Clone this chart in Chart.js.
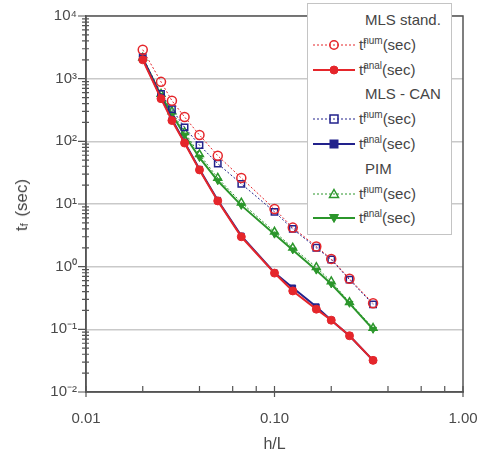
<!DOCTYPE html>
<html>
<head>
<meta charset="utf-8">
<script src="https://cdn.jsdelivr.net/npm/chart.js@4/dist/chart.umd.min.js"></script>
<style>
  html, body { margin: 0; padding: 0; background: #fff; }
  #wrap { position: relative; width: 480px; height: 456px; font-family: "Liberation Sans", Arial, sans-serif; color: #454545; }
  #wrap canvas { position: absolute; left: 0; top: 0; }
  #ytitle { position: absolute; left: 22px; top: 205px; transform: translate(-50%, -50%) rotate(-90deg); font-size: 17px; white-space: nowrap; }
  #legend { position: absolute; left: 307px; top: 3px; width: 145px; height: 232px; background: #fff; border: 1px solid #c4c4c4; box-sizing: border-box; }
  .row { position: absolute; left: 0; height: 24px; line-height: 24px; font-size: 15px; white-space: nowrap; }
  .row svg { position: absolute; left: 5px; top: 6px; }
  .row .txt { position: absolute; left: 51px; top: 0; }
  .row.head .txt { left: 57px; }
  .ss { position: relative; display: inline-block; }
  .ss .sp { font-size: 10px; position: relative; top: -6px; }
  .ss .sb { font-size: 10px; position: absolute; left: 0; top: 6px; line-height: 12px; }
  #ytitle .ss .sp { display: inline-block; width: 5px; }
  #ytitle .ss .sb { font-size: 11px; }
</style>
</head>
<body>
<div id="wrap">
  <canvas id="chart" width="480" height="456"></canvas>
  <div id="ytitle">t<span class="ss"><span class="sp"></span><span class="sb">f</span></span> (sec)</div>
  <div id="legend"></div>
</div>
<script>
// h/L values shared by all series
const hL = [1/50, 1/40, 1/35, 1/30, 1/25, 1/20, 1/15, 1/10, 1/8, 1/6, 1/5, 1/4, 1/3];

// t_f (sec)
const mlsStdNum  = [2900, 890, 445, 245, 126, 59, 26, 8.3, 4.2, 2.1, 1.33, 0.64, 0.26];
const mlsStdAnal = [2000, 480, 215, 94, 35, 11.2, 3.0, 0.79, 0.41, 0.21, 0.14, 0.079, 0.032];
const mlsCanNum  = [2200, 570, 326, 167, 87, 44, 21, 7.5, 4.0, 2.0, 1.3, 0.62, 0.25];
const mlsCanAnal = [2100, 500, 225, 97, 36, 11.5, 3.1, 0.8, 0.46, 0.23, 0.14, 0.079, 0.032];
const pimNum     = [2150, 570, 300, 140, 62, 26, 10.5, 3.6, 2.0, 0.98, 0.58, 0.27, 0.105];
const pimAnal    = [2100, 540, 270, 125, 55, 23.5, 9.5, 3.3, 1.85, 0.88, 0.53, 0.26, 0.1];

const groupNames = ['MLS stand.', 'MLS - CAN', 'PIM'];
const xTicks = [0.01, 0.02, 0.04, 0.06, 0.08, 0.1, 0.2, 0.4, 0.6, 0.8, 1];
const yDecades = [-2, -1, 0, 1, 2, 3, 4];

const RED = '#e5262b';
const BLUE = '#22228c';
const GREEN = '#2b962b';

const pts = (arr) => hL.map((x, i) => ({ x, y: arr[i] }));
const isDecade = (v) => { const e = Math.log10(v); return Math.abs(e - Math.round(e)) < 1e-6; };
const supDigits = { '-': '\u207B', '0': '\u2070', '1': '\u00B9', '2': '\u00B2', '3': '\u00B3', '4': '\u2074' };

const numStyle = (color, shape) => ({
  borderColor: color, borderWidth: 1, borderDash: [2, 2],
  pointStyle: shape, pointRadius: 4.5, pointBorderColor: color, pointBorderWidth: 1.5,
  pointBackgroundColor: 'rgba(255,255,255,0)', fill: false, tension: 0,
});
const analStyle = (color, shape, rot) => ({
  borderColor: color, borderWidth: 2,
  pointStyle: shape, pointRotation: rot || 0, pointRadius: 4, pointBorderColor: color, pointBorderWidth: 1,
  pointBackgroundColor: color, fill: false, tension: 0,
});

// first dataset is drawn on top
const datasets = [
  { label: 'MLS stand. anal', data: pts(mlsStdAnal), ...analStyle(RED, 'circle') },
  { label: 'MLS stand. num', data: pts(mlsStdNum), ...numStyle(RED, 'circle') },
  { label: 'MLS - CAN anal', data: pts(mlsCanAnal), ...analStyle(BLUE, 'rect') },
  { label: 'MLS - CAN num', data: pts(mlsCanNum), ...numStyle(BLUE, 'rect') },
  { label: 'PIM anal', data: pts(pimAnal), ...analStyle(GREEN, 'triangle', 180) },
  { label: 'PIM num', data: pts(pimNum), ...numStyle(GREEN, 'triangle') },
];

// frame + tick marks like the original plot
const framePlugin = {
  id: 'frame',
  afterDraw(chart) {
    const { ctx, chartArea: a, scales } = chart;
    ctx.save();
    ctx.strokeStyle = '#555';
    ctx.lineWidth = 1.5;
    ctx.strokeRect(a.left, a.top, a.right - a.left, a.bottom - a.top);
    ctx.lineWidth = 1.2;
    ctx.beginPath();
    scales.y.ticks.forEach((t) => {
      const y = scales.y.getPixelForValue(t.value);
      if (isDecade(t.value)) { ctx.moveTo(a.left - 8, y); ctx.lineTo(a.left, y); }
      else { ctx.moveTo(a.left - 4, y); ctx.lineTo(a.left + 3, y); }
    });
    scales.x.ticks.forEach((t) => {
      const x = scales.x.getPixelForValue(t.value);
      if (isDecade(t.value)) { ctx.moveTo(x, a.bottom - 6); ctx.lineTo(x, a.bottom + 5); }
      else { ctx.moveTo(x, a.bottom - 6); ctx.lineTo(x, a.bottom); }
    });
    ctx.stroke();
    ctx.restore();
  },
};

const tickFont = { family: '"Liberation Sans", Arial, sans-serif', size: 15 };

new Chart(document.getElementById('chart'), {
  type: 'line',
  data: { datasets },
  options: {
    responsive: false,
    animation: false,
    layout: { padding: { top: 16, right: 17, left: 0, bottom: 0 } },
    plugins: { legend: { display: false }, tooltip: { enabled: false } },
    scales: {
      x: {
        type: 'logarithmic', min: 0.01, max: 1,
        afterBuildTicks: (s) => { s.ticks = xTicks.map((v) => ({ value: v })); },
        afterFit: (s) => { s.height = 64; s.paddingLeft = 0; s.paddingRight = 0; },
        grid: { display: false, drawTicks: false },
        border: { color: '#555', width: 1.5 },
        ticks: {
          autoSkip: false, maxRotation: 0, padding: 18, color: '#4a4a4a', font: tickFont,
          callback: (v) => (isDecade(v) ? Number(v).toFixed(2) : ''),
        },
        title: { display: true, text: 'h/L', color: '#4a4a4a', font: { ...tickFont, size: 16 }, padding: { top: 0, bottom: 2 } },
      },
      y: {
        type: 'logarithmic', min: 0.01, max: 10000,
        afterBuildTicks: (s) => {
          const t = [];
          yDecades.forEach((e) => {
            if (e === 4) { t.push({ value: 1e4 }); return; }
            for (let m = 1; m <= 9; m++) t.push({ value: m * Math.pow(10, e) });
          });
          s.ticks = t;
        },
        afterFit: (s) => { s.width = 86; s.paddingTop = 0; s.paddingBottom = 0; },
        grid: {
          drawTicks: false,
          color: (c) => (c.tick && isDecade(c.tick.value) ? '#c9c9c9' : 'rgba(0,0,0,0)'),
          lineWidth: 1.5,
        },
        border: { color: '#555', width: 1.5 },
        ticks: {
          autoSkip: false, padding: 9, color: '#4a4a4a', font: tickFont,
          callback: (v) => {
            if (!isDecade(v)) return '';
            const e = String(Math.round(Math.log10(v)));
            return '10' + e.split('').map((c) => supDigits[c]).join('');
          },
        },
      },
    },
  },
  plugins: [framePlugin],
});

// legend with group headers
const legendRows = [
  { head: groupNames[0] },
  { kind: 'num', color: RED, shape: 'circle' },
  { kind: 'anal', color: RED, shape: 'circle' },
  { head: groupNames[1] },
  { kind: 'num', color: BLUE, shape: 'rect' },
  { kind: 'anal', color: BLUE, shape: 'rect' },
  { head: groupNames[2] },
  { kind: 'num', color: GREEN, shape: 'triangle' },
  { kind: 'anal', color: GREEN, shape: 'triangleDown' },
];

function marker(shape, color, filled) {
  const fill = filled ? color : 'none';
  const sw = filled ? 1 : 1.5;
  if (shape === 'circle') return `<circle cx="21" cy="6" r="${filled ? 4 : 4.2}" fill="${fill}" stroke="${color}" stroke-width="${sw}"/>`;
  if (shape === 'rect') return `<rect x="17" y="2" width="8" height="8" fill="${fill}" stroke="${color}" stroke-width="${sw}"/>`;
  if (shape === 'triangle') return `<polygon points="21,1.5 25.5,9.5 16.5,9.5" fill="${fill}" stroke="${color}" stroke-width="${sw}"/>`;
  return `<polygon points="16.5,2.5 25.5,2.5 21,10.5" fill="${fill}" stroke="${color}" stroke-width="${sw}"/>`;
}

const legend = document.getElementById('legend');
legendRows.forEach((r, i) => {
  const row = document.createElement('div');
  row.className = 'row' + (r.head ? ' head' : '');
  row.style.top = (4 + i * 24.8) + 'px';
  row.style.width = '100%';
  if (r.head) {
    row.innerHTML = `<span class="txt">${r.head}</span>`;
  } else {
    const num = r.kind === 'num';
    const line = `<line x1="0" y1="6" x2="42" y2="6" stroke="${r.color}" stroke-width="${num ? 1 : 2}" ${num ? 'stroke-dasharray="2 2"' : ''}/>`;
    row.innerHTML = `<svg width="42" height="12">${line}${marker(r.shape, r.color, !num)}</svg>` +
      `<span class="txt">t<span class="ss"><span class="sp">${num ? 'num' : 'anal'}</span><span class="sb">f</span></span>(sec)</span>`;
  }
  legend.appendChild(row);
});
</script>
</body>
</html>
